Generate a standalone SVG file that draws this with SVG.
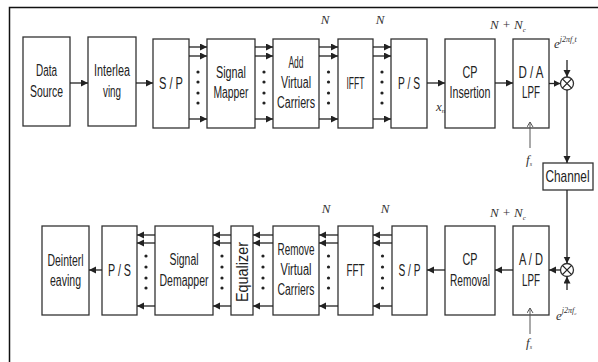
<svg xmlns="http://www.w3.org/2000/svg" width="598" height="362" viewBox="0 0 598 362">
<style>
.box{fill:#fff;stroke:#333;stroke-width:1.3}
.ln{fill:none;stroke:#222;stroke-width:1.3}
.arr{fill:none;stroke:#222;stroke-width:1.3;marker-end:url(#ah)}
.oarr{fill:none;stroke:#555;stroke-width:1;marker-end:url(#oh)}
.t{font-family:"Liberation Sans",Arial,sans-serif;font-size:16px;fill:#222;text-anchor:middle}
.m{font-family:"Liberation Serif","Times New Roman",serif;font-style:italic;font-size:13px;fill:#333}
.dot{fill:#222}
</style>
<defs>
<marker id="ah" markerUnits="userSpaceOnUse" markerWidth="8" markerHeight="8" refX="7" refY="3.5" orient="auto">
<path d="M0,0 L7,3.5 L0,7 z" fill="#222"/>
</marker>
<marker id="oh" markerUnits="userSpaceOnUse" markerWidth="8" markerHeight="8" refX="5" refY="3" orient="auto">
<path d="M0,0 L5,3 L0,6" fill="none" stroke="#555" stroke-width="1"/>
</marker>
</defs>
<path d="M9.5,362 L9.5,7.5 L598,7.5" fill="none" stroke="#111" stroke-width="1.5"/>
<g id="data-source"><rect class="box" x="23" y="37" width="47" height="89"/><text class="t" x="46.5" y="76" textLength="21" lengthAdjust="spacingAndGlyphs">Data</text><text class="t" x="46.5" y="97" textLength="33" lengthAdjust="spacingAndGlyphs">Source</text></g>
<g id="interleaving"><rect class="box" x="88" y="37" width="48" height="89"/><text class="t" x="112" y="76" textLength="36" lengthAdjust="spacingAndGlyphs">Interlea</text><text class="t" x="112" y="97" textLength="18" lengthAdjust="spacingAndGlyphs">ving</text></g>
<g id="sp-tx"><rect class="box" x="153" y="39" width="36" height="89"/><text class="t" x="171" y="89" textLength="24" lengthAdjust="spacingAndGlyphs">S / P</text></g>
<g id="signal-mapper"><rect class="box" x="207" y="39" width="48" height="89"/><text class="t" x="231" y="78" textLength="30" lengthAdjust="spacingAndGlyphs">Signal</text><text class="t" x="231" y="98" textLength="35" lengthAdjust="spacingAndGlyphs">Mapper</text></g>
<g id="add-vc"><rect class="box" x="273" y="39" width="46" height="89"/><text class="t" x="296" y="68" textLength="15" lengthAdjust="spacingAndGlyphs">Add</text><text class="t" x="296" y="88" textLength="30" lengthAdjust="spacingAndGlyphs">Virtual</text><text class="t" x="296" y="108" textLength="38" lengthAdjust="spacingAndGlyphs">Carriers</text></g>
<g id="ifft"><rect class="box" x="338" y="39" width="35" height="89"/><text class="t" x="355.5" y="89" textLength="18" lengthAdjust="spacingAndGlyphs">IFFT</text></g>
<g id="ps-tx"><rect class="box" x="391" y="39" width="36" height="89"/><text class="t" x="409" y="89" textLength="22" lengthAdjust="spacingAndGlyphs">P / S</text></g>
<g id="cp-insertion"><rect class="box" x="445" y="39" width="50" height="89"/><text class="t" x="470" y="78" textLength="15" lengthAdjust="spacingAndGlyphs">CP</text><text class="t" x="470" y="98" textLength="41" lengthAdjust="spacingAndGlyphs">Insertion</text></g>
<g id="da-lpf"><rect class="box" x="513" y="39" width="36" height="89"/><text class="t" x="531" y="78" textLength="25" lengthAdjust="spacingAndGlyphs">D / A</text><text class="t" x="531" y="98" textLength="18" lengthAdjust="spacingAndGlyphs">LPF</text></g>
<g id="mixer-tx"><circle class="box" cx="567" cy="83.5" r="6.5"/><path class="ln" d="M562.4,78.9 L571.6,88.1 M571.6,78.9 L562.4,88.1" stroke-width="1"/></g>
<g id="channel"><rect class="box" x="543" y="163" width="50" height="27"/><text class="t" transform="translate(567.5,181.5) scale(0.74,1)" x="0" y="0" font-size="14">Channel</text></g>
<g id="mixer-rx"><circle class="box" cx="567" cy="270" r="6.5"/><path class="ln" d="M562.4,265.4 L571.6,274.6 M571.6,265.4 L562.4,274.6" stroke-width="1"/></g>
<g id="ad-lpf"><rect class="box" x="513" y="226" width="36" height="89"/><text class="t" x="531" y="265" textLength="24" lengthAdjust="spacingAndGlyphs">A / D</text><text class="t" x="531" y="286" textLength="18" lengthAdjust="spacingAndGlyphs">LPF</text></g>
<g id="cp-removal"><rect class="box" x="445" y="226" width="50" height="89"/><text class="t" x="470" y="265" textLength="15" lengthAdjust="spacingAndGlyphs">CP</text><text class="t" x="470" y="286" textLength="40" lengthAdjust="spacingAndGlyphs">Removal</text></g>
<g id="sp-rx"><rect class="box" x="392" y="226" width="35" height="89"/><text class="t" x="409.5" y="276" textLength="22" lengthAdjust="spacingAndGlyphs">S / P</text></g>
<g id="fft"><rect class="box" x="338" y="226" width="35" height="89"/><text class="t" x="355.5" y="276" textLength="18" lengthAdjust="spacingAndGlyphs">FFT</text></g>
<g id="remove-vc"><rect class="box" x="273" y="226" width="46" height="89"/><text class="t" x="296" y="255" textLength="37" lengthAdjust="spacingAndGlyphs">Remove</text><text class="t" x="296" y="275" textLength="31" lengthAdjust="spacingAndGlyphs">Virtual</text><text class="t" x="296" y="295" textLength="37" lengthAdjust="spacingAndGlyphs">Carriers</text></g>
<g id="equalizer"><rect class="box" x="231" y="226" width="22" height="89"/><text class="t" transform="translate(247.5,272) rotate(-90)" x="0" y="0" font-size="15" textLength="60" lengthAdjust="spacingAndGlyphs">Equalizer</text></g>
<g id="signal-demapper"><rect class="box" x="155" y="226" width="58" height="89"/><text class="t" x="184" y="265" textLength="29" lengthAdjust="spacingAndGlyphs">Signal</text><text class="t" x="184" y="286" textLength="49" lengthAdjust="spacingAndGlyphs">Demapper</text></g>
<g id="ps-rx"><rect class="box" x="102" y="226" width="35" height="89"/><text class="t" x="119.5" y="276" textLength="23" lengthAdjust="spacingAndGlyphs">P / S</text></g>
<g id="deinterleaving"><rect class="box" x="42" y="226" width="47" height="89"/><text class="t" x="65.5" y="266" textLength="36" lengthAdjust="spacingAndGlyphs">Deinterl</text><text class="t" x="65.5" y="286" textLength="31" lengthAdjust="spacingAndGlyphs">eaving</text></g>
<g id="connectors">
<path class="arr" d="M70,83 L88,83"/>
<path class="arr" d="M136,83 L153,83"/>
<path class="arr" d="M189,47 L207,47"/><path class="arr" d="M189,56 L207,56"/><path class="arr" d="M189,119 L207,119"/>
<path class="arr" d="M255,47 L273,47"/><path class="arr" d="M255,56 L273,56"/><path class="arr" d="M255,119 L273,119"/>
<path class="arr" d="M319,47 L338,47"/><path class="arr" d="M319,56 L338,56"/><path class="arr" d="M319,119 L338,119"/>
<path class="arr" d="M373,47 L391,47"/><path class="arr" d="M373,56 L391,56"/><path class="arr" d="M373,119 L391,119"/>
<path class="arr" d="M427,83 L445,83"/>
<path class="arr" d="M495,83 L513,83"/>
<path class="arr" d="M549,83.5 L560.5,83.5"/>
<path class="arr" d="M567,60 L567,77"/>
<path class="arr" d="M567,90 L567,163"/>
<path class="arr" d="M567,190 L567,263.5"/>
<path class="arr" d="M567,290 L567,276.5"/>
<path class="arr" d="M560.5,270 L549,270"/>
<path class="arr" d="M513,270 L495,270"/>
<path class="arr" d="M445,270 L427,270"/>
<path class="arr" d="M392,235 L373,235"/><path class="arr" d="M392,243 L373,243"/><path class="arr" d="M392,306 L373,306"/>
<path class="arr" d="M338,235 L319,235"/><path class="arr" d="M338,243 L319,243"/><path class="arr" d="M338,306 L319,306"/>
<path class="arr" d="M273,235 L253,235"/><path class="arr" d="M273,243 L253,243"/><path class="arr" d="M273,306 L253,306"/>
<path class="arr" d="M231,235 L213,235"/><path class="arr" d="M231,243 L213,243"/><path class="arr" d="M231,306 L213,306"/>
<path class="arr" d="M155,235 L137,235"/><path class="arr" d="M155,243 L137,243"/><path class="arr" d="M155,306 L137,306"/>
<path class="arr" d="M102,270 L89,270"/>
<path class="oarr" d="M530,148 L530,122"/>
<path class="oarr" d="M530,334 L530,308"/>
</g>
<g id="dots">
<circle class="dot" cx="198" cy="72" r="1.6"/><circle class="dot" cx="198" cy="82" r="1.6"/><circle class="dot" cx="198" cy="93" r="1.6"/><circle class="dot" cx="198" cy="103" r="1.6"/>
<circle class="dot" cx="264" cy="72" r="1.6"/><circle class="dot" cx="264" cy="82" r="1.6"/><circle class="dot" cx="264" cy="93" r="1.6"/><circle class="dot" cx="264" cy="103" r="1.6"/>
<circle class="dot" cx="328.5" cy="72" r="1.6"/><circle class="dot" cx="328.5" cy="82" r="1.6"/><circle class="dot" cx="328.5" cy="93" r="1.6"/><circle class="dot" cx="328.5" cy="103" r="1.6"/>
<circle class="dot" cx="382" cy="72" r="1.6"/><circle class="dot" cx="382" cy="82" r="1.6"/><circle class="dot" cx="382" cy="93" r="1.6"/><circle class="dot" cx="382" cy="103" r="1.6"/>
<circle class="dot" cx="146" cy="256" r="1.6"/><circle class="dot" cx="146" cy="267" r="1.6"/><circle class="dot" cx="146" cy="278" r="1.6"/><circle class="dot" cx="146" cy="288" r="1.6"/>
<circle class="dot" cx="222" cy="256" r="1.6"/><circle class="dot" cx="222" cy="267" r="1.6"/><circle class="dot" cx="222" cy="278" r="1.6"/><circle class="dot" cx="222" cy="288" r="1.6"/>
<circle class="dot" cx="263" cy="256" r="1.6"/><circle class="dot" cx="263" cy="267" r="1.6"/><circle class="dot" cx="263" cy="278" r="1.6"/><circle class="dot" cx="263" cy="288" r="1.6"/>
<circle class="dot" cx="328.5" cy="256" r="1.6"/><circle class="dot" cx="328.5" cy="267" r="1.6"/><circle class="dot" cx="328.5" cy="278" r="1.6"/><circle class="dot" cx="328.5" cy="288" r="1.6"/>
<circle class="dot" cx="382.5" cy="256" r="1.6"/><circle class="dot" cx="382.5" cy="267" r="1.6"/><circle class="dot" cx="382.5" cy="278" r="1.6"/><circle class="dot" cx="382.5" cy="288" r="1.6"/>
</g>
<g id="labels">
<text class="m" x="325" y="24" text-anchor="middle">N</text>
<text class="m" x="380" y="24" text-anchor="middle">N</text>
<text class="m" x="490" y="29">N + N<tspan font-size="7" dy="3">c</tspan></text>
<text class="m" x="436" y="111">x<tspan font-size="7" dy="2">n</tspan></text>
<text class="m" x="526" y="164">f<tspan font-size="6" dy="2">s</tspan></text>
<text class="m" x="554" y="48" font-size="12">e<tspan font-size="8" dy="-6">j2πf</tspan><tspan font-size="5" dy="2">c</tspan><tspan font-size="8" dy="-2">t</tspan></text>
<text class="m" x="326" y="213" text-anchor="middle">N</text>
<text class="m" x="385" y="213" text-anchor="middle">N</text>
<text class="m" x="490" y="217">N + N<tspan font-size="7" dy="3">c</tspan></text>
<text class="m" x="526" y="347">f<tspan font-size="6" dy="2">s</tspan></text>
<text class="m" x="556" y="320" font-size="12">e<tspan font-size="8" dy="-7">j2πf</tspan><tspan font-size="5" dy="2">c</tspan></text>
</g>
</svg>
